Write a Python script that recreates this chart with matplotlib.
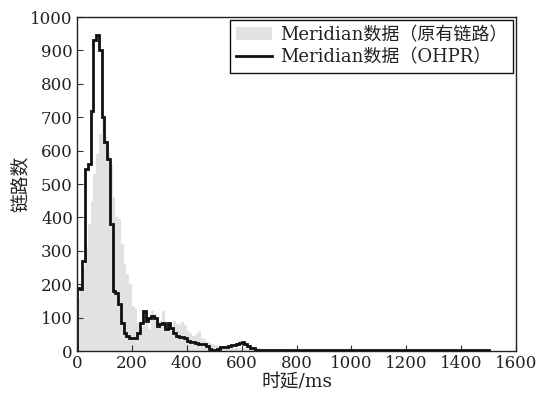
import numpy as np
import matplotlib
matplotlib.use("Agg")
import matplotlib.pyplot as plt
from matplotlib.patches import Patch
from matplotlib.lines import Line2D

# 10 ms bins, bin start from 0 to 1490 ms
bin_width = 10
bin_starts = list(range(0, 1500, 10))

# Meridian data (original links) - grey filled histogram
orig_counts = [
    160, 200, 250, 310, 380, 450, 530, 590, 650, 705,   # 0-90
    640, 600, 560, 460, 400, 395, 320, 260, 230, 200,   # 100-190
    135, 125, 85, 70, 75, 90, 65, 120, 110, 95,         # 200-290
    90, 120, 85, 75, 60, 90, 80, 78, 88, 78,            # 300-390
    60, 55, 45, 50, 60, 40, 35, 28, 25, 20,             # 400-490
    18, 15, 15, 12, 12, 10, 10, 8, 8, 8,                # 500-590
    10, 10, 12, 8, 10, 10, 8, 6, 5, 5,                  # 600-690
    5, 6, 5, 4, 5, 4, 4, 3, 3, 3,                       # 700-790
    3, 3, 3, 3, 2, 3, 2, 3, 2, 2,                       # 800-890
    3, 2, 2, 2, 2, 2, 3, 2, 2, 2,                       # 900-990
    2, 2, 2, 3, 2, 2, 2, 2, 2, 2,                       # 1000-1090
    2, 2, 2, 2, 2, 2, 2, 2, 2, 2,                       # 1100-1190
    2, 2, 2, 2, 2, 2, 2, 2, 2, 2,                       # 1200-1290
    2, 2, 2, 2, 2, 2, 2, 2, 2, 2,                       # 1300-1390
    2, 2, 2, 2, 2, 2, 2, 2, 2, 2,                       # 1400-1490
]

# Meridian data (OHPR) - black step line
ohpr_counts = [
    190, 185, 270, 545, 560, 720, 930, 945, 900, 700,   # 0-90
    625, 575, 380, 180, 175, 140, 85, 55, 45, 40,       # 100-190
    38, 40, 55, 85, 120, 90, 100, 105, 100, 75,         # 200-290
    80, 85, 65, 85, 70, 55, 45, 42, 42, 40,             # 300-390
    30, 28, 27, 25, 22, 22, 20, 15, 5, 3,               # 400-490
    3, 5, 13, 13, 13, 15, 18, 18, 22, 25,               # 500-590
    28, 20, 15, 10, 8, 4, 3, 3, 2, 2,                   # 600-690
    2, 2, 2, 2, 2, 2, 2, 2, 2, 2,                       # 700-790
    2, 2, 2, 2, 2, 2, 2, 2, 2, 3,                       # 800-890
    3, 2, 2, 2, 2, 2, 2, 2, 2, 2,                       # 900-990
    2, 2, 2, 2, 2, 2, 2, 2, 2, 2,                       # 1000-1090
    2, 2, 2, 2, 2, 2, 2, 2, 2, 2,                       # 1100-1190
    2, 2, 2, 2, 2, 2, 2, 2, 2, 2,                       # 1200-1290
    2, 2, 2, 2, 2, 2, 2, 2, 2, 2,                       # 1300-1390
    2, 2, 2, 2, 2, 2, 2, 2, 2, 2,                       # 1400-1490
]

x_ticks = [0, 200, 400, 600, 800, 1000, 1200, 1400, 1600]
y_ticks = [0, 100, 200, 300, 400, 500, 600, 700, 800, 900, 1000]
label_orig = "Meridian数据（原有链路）"
label_ohpr = "Meridian数据（OHPR）"
xlabel = "时延/ms"
ylabel = "链路数"

plt.rcParams['font.family'] = ['DejaVu Serif', 'Noto Sans CJK SC']
plt.rcParams['font.size'] = 12

fig = plt.figure(figsize=(5.52, 3.96), dpi=100)
ax = fig.add_axes([0.1395, 0.1136, 0.7955, 0.8434])

edges = np.append(np.array(bin_starts, dtype=float), bin_starts[-1] + bin_width)
ax.stairs(orig_counts, edges, fill=True, color='#e1e2e4', label=label_orig, zorder=1)
ax.stairs(ohpr_counts, edges, fill=False, color='#111111', linewidth=2.0,
          label=label_ohpr, zorder=2)

ax.set_xlim(0, 1600)
ax.set_ylim(0, 1000)
ax.set_xticks(x_ticks)
ax.set_yticks(y_ticks)
ax.tick_params(direction='in', length=4, width=0.8, labelsize=12, pad=3,
               colors='#333333', labelcolor='#222222')
for s in ax.spines.values():
    s.set_linewidth(1.0)
    s.set_color('#222222')

ax.set_xlabel(xlabel, fontsize=13.5, labelpad=1, color='#222222')
ax.set_ylabel(ylabel, fontsize=13.5, labelpad=0, color='#222222')

handles = [Patch(facecolor='#e1e2e4', edgecolor='none'),
           Line2D([0], [0], color='#111111', linewidth=2.0)]
leg = ax.legend(handles, [label_orig, label_ohpr], loc='upper right',
                fontsize=13, frameon=True, fancybox=False, framealpha=1,
                edgecolor='#111111', borderpad=0.35, labelspacing=0.25,
                handlelength=2.0, handletextpad=0.4, borderaxespad=0.15)
leg.get_frame().set_linewidth(1.0)
for t in leg.get_texts():
    t.set_color('#222222')

fig.savefig('out.png', dpi=100)
